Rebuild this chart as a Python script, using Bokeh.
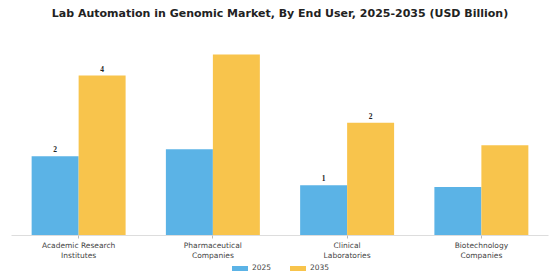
from bokeh.plotting import figure
from bokeh.layouts import column
from bokeh.models import ColumnDataSource, FactorRange, Range1d, Legend, LegendItem, LabelSet, Title
from bokeh.transform import dodge
from bokeh.embed import file_html
from bokeh.resources import INLINE

categories = ["Academic Research\nInstitutes", "Pharmaceutical\nCompanies",
              "Clinical\nLaboratories", "Biotechnology\nCompanies"]
series = ["2025", "2035"]
values_2025 = [2.02, 2.2, 1.28, 1.24]
values_2035 = [4.08, 4.62, 2.88, 2.3]
labels_2025 = ["2", "", "1", ""]
labels_2035 = ["4", "", "2", ""]

colors = {"2025": "#5BB3E6", "2035": "#F8C44C"}
FONT = "DejaVu Sans"

src = ColumnDataSource(dict(cat=categories, v25=values_2025, v35=values_2035,
                            l25=labels_2025, l35=labels_2035))

p = figure(width=560, height=263, x_range=FactorRange(*categories, range_padding=0),
           y_range=Range1d(0, 5.41), output_backend="svg", toolbar_location=None,
           min_border_left=11, min_border_right=12, min_border_top=4, min_border_bottom=28)

title = Title(text="Lab Automation in Genomic Market, By End User, 2025-2035 (USD Billion)",
              align="center", text_font=FONT, text_font_size="11px", text_font_style="bold",
              text_color="#222222", standoff=8)
p.add_layout(title, "above")

r1 = p.vbar(x=dodge("cat", -0.175, range=p.x_range), top="v25", width=0.35, source=src,
            fill_color=colors["2025"], line_color=None)
r2 = p.vbar(x=dodge("cat", 0.175, range=p.x_range), top="v35", width=0.35, source=src,
            fill_color=colors["2035"], line_color=None)

for xcol, ycol, lcol, off in [("cat", "v25", "l25", -0.175), ("cat", "v35", "l35", 0.175)]:
    lab = LabelSet(x=dodge(xcol, off, range=p.x_range), y=ycol, text=lcol, source=src,
                   text_align="center", text_baseline="bottom", y_offset=4,
                   text_font=FONT, text_font_size="7.5px", text_font_style="bold",
                   text_color="#222222")
    p.add_layout(lab)

p.yaxis.visible = False
p.xgrid.grid_line_color = None
p.ygrid.grid_line_color = None
p.outline_line_color = None
p.xaxis.axis_line_color = "#dddddd"
p.xaxis.major_tick_line_color = "#bbbbbb"
p.xaxis.major_tick_out = 3
p.xaxis.major_tick_in = 0
p.xaxis.minor_tick_line_color = None
p.xaxis.major_label_text_font = FONT
p.xaxis.major_label_text_font_size = "7.5px"
p.xaxis.major_label_text_color = "#444444"
p.xaxis.major_label_standoff = 2

# legend strip (dummy off-range renderers only supply the legend swatches)
lg = figure(width=560, height=17, output_backend="svg", toolbar_location=None,
            x_range=Range1d(0, 1), y_range=Range1d(0, 1),
            min_border=0)
lg.axis.visible = False
lg.grid.grid_line_color = None
lg.outline_line_color = None
dummy = ColumnDataSource(dict(x=[-10], top=[0]))
lr1 = lg.vbar(x="x", top="top", width=0.1, source=dummy, fill_color=colors[series[0]], line_color=None)
lr2 = lg.vbar(x="x", top="top", width=0.1, source=dummy, fill_color=colors[series[1]], line_color=None)
legend = Legend(items=[LegendItem(label=series[0], renderers=[lr1]),
                       LegendItem(label=series[1], renderers=[lr2])],
                orientation="horizontal", location="top_center",
                label_text_font=FONT, label_text_font_size="7.5px", label_text_color="#444444",
                glyph_width=20, glyph_height=6, spacing=15, padding=0, margin=0,
                border_line_color=None, background_fill_alpha=0, label_standoff=3)
lg.add_layout(legend)

layout = column(p, lg, spacing=0)
open("out.html", "w").write(file_html(layout, INLINE))
